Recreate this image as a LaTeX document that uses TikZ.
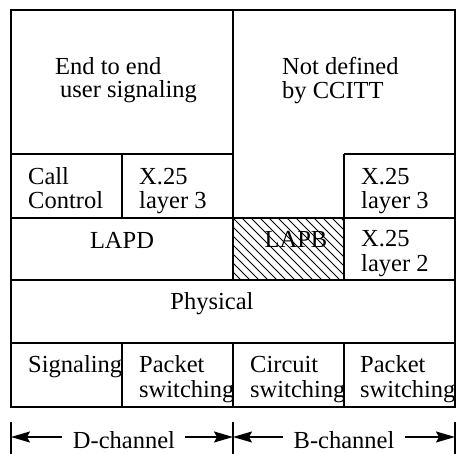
\documentclass[tikz,border=0pt]{standalone}
\usepackage{fontspec}
\setmainfont{Liberation Serif}
\usetikzlibrary{arrows.meta}
\begin{document}
\begin{tikzpicture}[x=1pt,y=-1pt,
  frame/.style={line width=1.7pt},
  hatch/.style={line width=1pt},
  txt/.style={inner sep=0pt,anchor=base west,font=\fontsize{24.5}{27}\selectfont},
  ctxt/.style={inner sep=0pt,anchor=base,font=\fontsize{24.5}{27}\selectfont},
  dim/.style={line width=1.6pt,-{Stealth[length=19pt,width=11pt,inset=3pt]}},
  tick/.style={line width=1.6pt}]
\useasboundingbox (0,0) rectangle (456,454);
% hatching of LAPB
\begin{scope}
  \clip (233,218) rectangle (344,280);
  \foreach \i in {-72,-63,...,120}
    \draw[hatch] (233+\i,218) -- (295+\i,280);
\end{scope}
% grid
\draw[frame] (11,10) rectangle (455,407);
\draw[frame] (11,154) -- (233,154);
\draw[frame] (344,154) -- (455,154);
\draw[frame] (11,218) -- (455,218);
\draw[frame] (11,280) -- (455,280);
\draw[frame] (11,343) -- (455,343);
\draw[frame] (233,10) -- (233,280);
\draw[frame] (122,154) -- (122,218);
\draw[frame] (344,154) -- (344,280);
\draw[frame] (122,343) -- (122,407);
\draw[frame] (233,343) -- (233,407);
\draw[frame] (344,343) -- (344,407);
% texts
\node[txt] (e1) at (55,75) {End to end};
\node[txt] (e2) at (60,98) {user signaling};
\node[txt] (n1) at (282,75) {Not defined};
\node[txt] (n2) at (282,99) {by CCITT};
\node[txt] (c1) at (28,185) {Call};
\node[txt] (c2) at (28,209) {Control};
\node[txt] (x1) at (139,185) {X.25};
\node[txt] (x2) at (139,209) {layer 3};
\node[txt] (y1) at (361,185) {X.25};
\node[txt] (y2) at (361,209) {layer 3};
\node[ctxt] (lapd) at (122,249) {LAPD};
\node[ctxt] (lapb) at (296,248) {LAPB};
\node[txt] (z1) at (361,247) {X.25};
\node[txt] (z2) at (361,272) {layer 2};
\node[ctxt] (phys) at (212,310) {Physical};
\node[txt] (sig) at (28,373) {Signaling};
\node[txt] (p1) at (139,373) {Packet};
\node[txt] (p2) at (139,398) {switching};
\node[txt] (ci1) at (250,373) {Circuit};
\node[txt] (ci2) at (250,398) {switching};
\node[txt] (q1) at (360,373) {Packet};
\node[txt] (q2) at (360,398) {switching};
\node[ctxt] (dch) at (124,449) {D-channel};
\node[ctxt] (bch) at (344,449) {B-channel};
% dimension marks
\coordinate (tl) at (11,437);
\coordinate (tm) at (233,437);
\coordinate (tr) at (455,437);
\draw[tick] (11,422) -- (11,454);
\draw[tick] (233,422) -- (233,454);
\draw[tick] (455,422) -- (455,454);
\coordinate (dl) at (62,437);
\coordinate (dr) at (185,437);
\coordinate (bl) at (283,437);
\coordinate (br) at (405,437);
\draw[dim] (dl) -- (tl);
\draw[dim] (dr) -- (tm);
\draw[dim] (bl) -- (tm);
\draw[dim] (br) -- (tr);
\end{tikzpicture}
\end{document}
